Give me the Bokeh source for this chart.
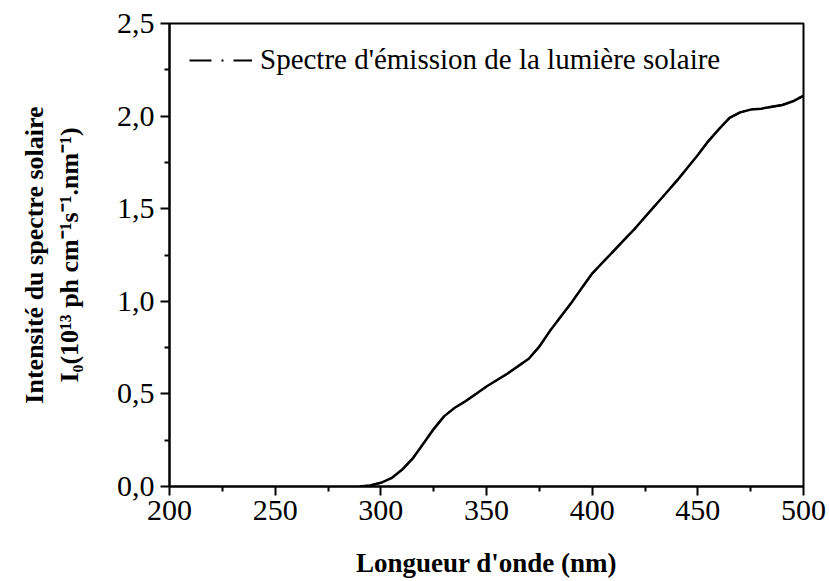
from bokeh.plotting import figure
from bokeh.models import FixedTicker, Legend, LegendItem, ColumnDataSource, Range1d
from bokeh.embed import file_html
from bokeh.resources import INLINE

# Data
wavelength = [290, 295, 300, 305, 310, 315, 320, 325, 330, 335, 340, 345, 350,
              355, 360, 365, 370, 375, 380, 385, 390, 395, 400, 405, 410, 415,
              420, 425, 430, 435, 440, 445, 450, 455, 460, 465, 470, 475, 480,
              485, 490, 495, 500]
intensity = [0.0, 0.005, 0.02, 0.045, 0.09, 0.15, 0.23, 0.31, 0.38, 0.425, 0.46,
             0.50, 0.54, 0.575, 0.61, 0.65, 0.69, 0.755, 0.84, 0.915, 0.99, 1.07,
             1.15, 1.21, 1.27, 1.33, 1.39, 1.455, 1.52, 1.585, 1.65, 1.72, 1.79,
             1.865, 1.93, 1.99, 2.02, 2.035, 2.04, 2.05, 2.06, 2.08, 2.11]

x_ticks = [200, 250, 300, 350, 400, 450, 500]
x_tick_labels = ["200", "250", "300", "350", "400", "450", "500"]
x_minor = [225, 275, 325, 375, 425, 475]
y_ticks = [0.0, 0.5, 1.0, 1.5, 2.0, 2.5]
y_tick_labels = ["0,0", "0,5", "1,0", "1,5", "2,0", "2,5"]
y_minor = [0.25, 0.75, 1.25, 1.75, 2.25]

legend_label = "Spectre d'émission de la lumière solaire"
x_title = "Longueur d'onde (nm)"
y_title = "Intensité du spectre solaire\nI₀(10¹³ ph cm⁻¹s⁻¹.nm⁻¹)"

FONT = "Liberation Serif"

p = figure(width=826, height=580,
           x_range=Range1d(200, 500), y_range=Range1d(0, 2.5),
           output_backend="svg", toolbar_location=None,
           min_border_left=169, min_border_right=23,
           min_border_top=23, min_border_bottom=92)

p.background_fill_color = "white"
p.border_fill_color = "white"
p.outline_line_color = "black"
p.outline_line_width = 2
p.xgrid.visible = False
p.ygrid.visible = False

src = ColumnDataSource(dict(x=wavelength, y=intensity))
# dash-dot line (used for the legend glyph) lying under the solid curve
r_leg = p.line("x", "y", source=src, line_color="black", line_width=2,
               line_dash="22 10 2 10")
p.line("x", "y", source=src, line_color="black", line_width=2.5)

p.xaxis.ticker = FixedTicker(ticks=x_ticks, minor_ticks=x_minor)
p.yaxis.ticker = FixedTicker(ticks=y_ticks, minor_ticks=y_minor)
p.xaxis.major_label_overrides = {t: l for t, l in zip(x_ticks, x_tick_labels)}
p.yaxis.major_label_overrides = {t: l for t, l in zip(y_ticks, y_tick_labels)}

for ax in (p.xaxis[0], p.yaxis[0]):
    ax.axis_line_width = 2
    ax.axis_line_color = "black"
    ax.major_tick_line_width = 2
    ax.minor_tick_line_width = 2
    ax.major_tick_line_color = "black"
    ax.minor_tick_line_color = "black"
    ax.major_tick_out = 9
    ax.major_tick_in = 0
    ax.minor_tick_out = 5
    ax.minor_tick_in = 0
    ax.major_label_text_font = FONT
    ax.major_label_text_font_size = "30px"
    ax.major_label_text_color = "black"
    ax.axis_label_text_font = FONT
    ax.axis_label_text_font_style = "bold"
    ax.axis_label_text_color = "black"

p.xaxis.axis_label_text_font_size = "27px"
p.yaxis.axis_label_text_font_size = "26px"
p.xaxis.axis_label = x_title
p.yaxis.axis_label = y_title
p.xaxis.major_label_standoff = 5
p.yaxis.major_label_standoff = 6
p.xaxis.axis_label_standoff = 25
p.yaxis.axis_label_standoff = 30

legend = Legend(items=[LegendItem(label=legend_label, renderers=[r_leg])],
                location="top_left")
legend.label_text_font = FONT
legend.label_text_font_size = "29px"
legend.label_text_color = "black"
legend.glyph_width = 63
legend.label_standoff = 8
legend.border_line_color = None
legend.background_fill_alpha = 0
legend.margin = 20
legend.padding = 14
p.add_layout(legend)

open("out.html", "w").write(file_html(p, INLINE))
